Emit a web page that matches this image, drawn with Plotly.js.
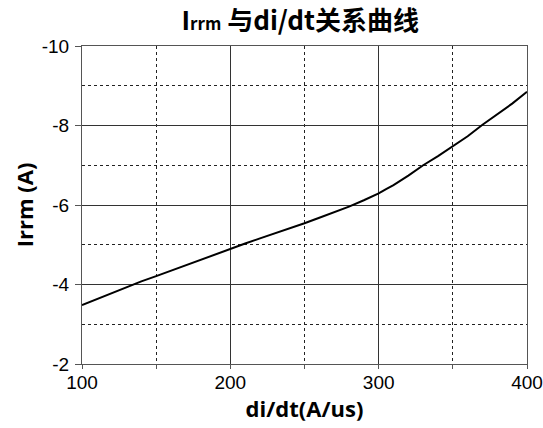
<!DOCTYPE html>
<html>
<head>
<meta charset="utf-8">
<script src="https://cdn.plot.ly/plotly-3.0.1.min.js"></script>
<style>html,body{margin:0;padding:0;background:#fff;}#chart{width:543px;height:428px;}</style>
</head>
<body>
<div id="chart"></div>
<script>
const diDt = [100,110,120,130,140,150,160,170,180,190,200,210,220,230,240,250,260,270,280,290,300,305,310,320,330,340,350,360,370,380,390,400];
const irrm = [-3.48,-3.63,-3.79,-3.94,-4.08,-4.21,-4.35,-4.49,-4.63,-4.77,-4.91,-5.03,-5.16,-5.28,-5.41,-5.54,-5.68,-5.82,-5.96,-6.12,-6.29,-6.40,-6.50,-6.74,-7.00,-7.23,-7.47,-7.73,-8.02,-8.28,-8.55,-8.85];
const xTicks = [100,200,300,400];
const yTicks = [-10,-8,-6,-4,-2];

const tickFont = {family:'"Liberation Sans", Arial, sans-serif', size:19, color:'#000'};
const titleFont = {family:'"Open Sans", sans-serif', size:22, color:'#000', weight:'bold'};

Plotly.newPlot('chart', [{
  x: diDt, y: irrm, type:'scatter', mode:'lines',
  line:{color:'#000', width:2}, hoverinfo:'skip'
}], {
  width:543, height:428,
  margin:{l:82, r:16, t:46, b:64},
  paper_bgcolor:'#fff', plot_bgcolor:'#fff',
  showlegend:false,
  title:{text:'I<span style="font-size:17px">rrm</span> 与di/dt关系曲线', x:0.553, xanchor:'center', y:0.951, yanchor:'middle',
    font:{family:'"Noto Sans CJK SC", sans-serif', size:26, color:'#000', weight:'bold'}},
  xaxis:{range:[100,400], tickvals:xTicks, ticktext:xTicks.map(String), tickfont:tickFont,
    ticks:'outside', ticklen:4, tickcolor:'#555', ticklabelstandoff:-3,
    showline:true, linecolor:'#555', linewidth:1, mirror:true,
    showgrid:true, gridcolor:'#333', gridwidth:1, zeroline:false,
    minor:{dtick:50, tick0:100, showgrid:true, griddash:'3px,3px', gridcolor:'#222', gridwidth:1, ticks:'outside', ticklen:4, tickcolor:'#555'},
    title:{text:'di/dt(A/us)', font:titleFont, standoff:0}},
  yaxis:{range:[-2,-10], tickvals:yTicks, ticktext:yTicks.map(String), tickfont:tickFont,
    ticks:'outside', ticklen:6, tickcolor:'#555', ticklabelstandoff:2,
    showline:true, linecolor:'#555', linewidth:1, mirror:true,
    showgrid:true, gridcolor:'#333', gridwidth:1, zeroline:false,
    minor:{dtick:1, tick0:-2, showgrid:true, griddash:'3px,3px', gridcolor:'#222', gridwidth:1, ticks:''},
    title:{text:'Irrm (A)', font:titleFont, standoff:2}}
}, {staticPlot:true, displayModeBar:false});
</script>
</body>
</html>
